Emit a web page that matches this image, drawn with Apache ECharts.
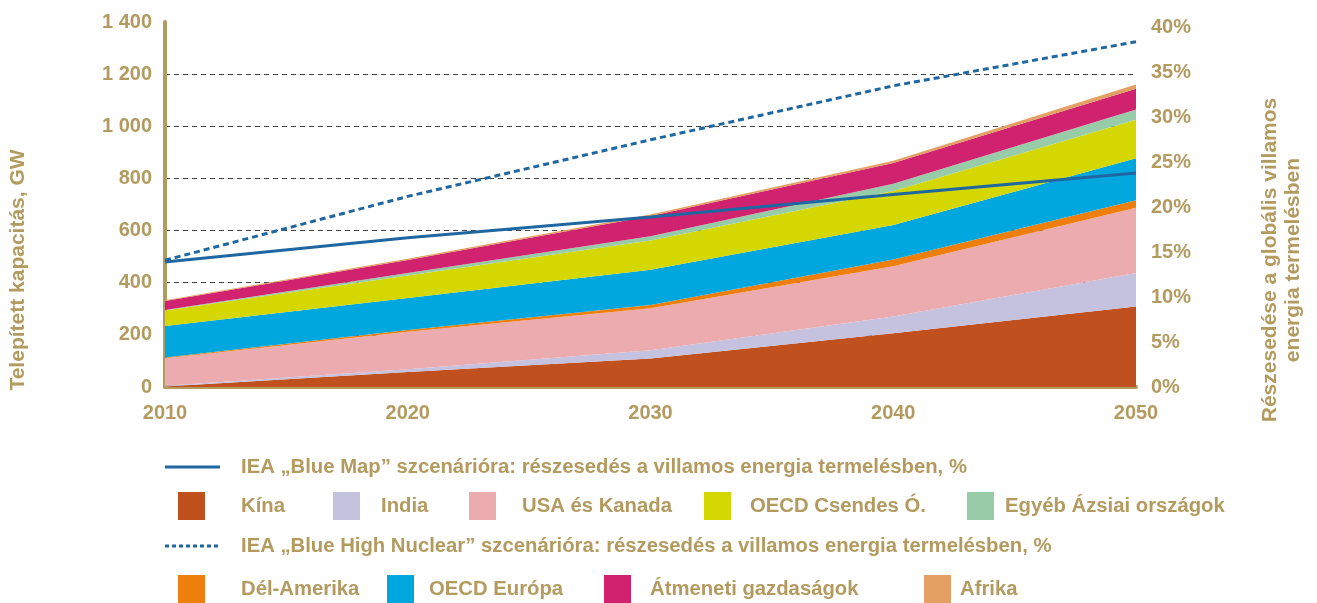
<!DOCTYPE html>
<html>
<head>
<meta charset="utf-8">
<script src="https://cdn.jsdelivr.net/npm/echarts@6/dist/echarts.min.js"></script>
<style>
  html, body { margin: 0; padding: 0; background: #fff; }
  #main { width: 1317px; height: 603px; }
</style>
</head>
<body>
<div id="main"></div>
<script>
// evek
var years = ['2010', '2020', '2030', '2040', '2050'];

// telepitett kapacitas regionkent, GW (egymasra rakva)
var kina     = [2, 58, 109, 206, 309];
var india    = [3, 10, 32, 64, 128];
var usa      = [105, 144, 161, 193, 251];
var delAm    = [3, 7, 13, 26, 28];
var europa   = [121, 122, 135, 132, 161];
var csendes  = [59, 87, 112, 131, 148];
var egyeb    = [2, 9, 16, 28, 39];
var atmeneti = [35, 50, 78, 79, 80];
var afrika   = [3, 5, 6, 9, 16];

// reszesedes a villamos energia termelesben, %
var blueMap  = [13.9, 16.6, 18.9, 21.4, 23.8];
var blueHigh = [14.1, 21.2, 27.5, 33.5, 38.4];

var tan = '#b39a5f';
var font = 'Liberation Sans, Arial, sans-serif';

var areas = [
    {name: 'Kína', data: kina, color: '#c1501f'},
    {name: 'India', data: india, color: '#c5c2e0'},
    {name: 'USA és Kanada', data: usa, color: '#ebabaf'},
    {name: 'Dél-Amerika', data: delAm, color: '#ef7f0c'},
    {name: 'OECD Európa', data: europa, color: '#00a7de'},
    {name: 'OECD Csendes Ó.', data: csendes, color: '#d4d800'},
    {name: 'Egyéb Ázsiai országok', data: egyeb, color: '#98cca8'},
    {name: 'Átmeneti gazdaságok', data: atmeneti, color: '#d12270'},
    {name: 'Afrika', data: afrika, color: '#e3a062'}
];
var lineNames = ['IEA „Blue Map” szcenárióra: részesedés a villamos energia termelésben, %',
                 'IEA „Blue High Nuclear” szcenárióra: részesedés a villamos energia termelésben, %'];
var lineColor = '#1f67a1';

var series = areas.map(function (a) {
    return {
        name: a.name,
        type: 'line',
        stack: 'gw',
        symbol: 'none',
        lineStyle: {width: 0},
        areaStyle: {color: a.color, opacity: 1},
        itemStyle: {color: a.color},
        data: a.data
    };
});
series.push({
    name: lineNames[0], type: 'line', yAxisIndex: 1, symbol: 'none', z: 5,
    lineStyle: {color: lineColor, width: 3}, itemStyle: {color: lineColor},
    data: blueMap
});
series.push({
    name: lineNames[1], type: 'line', yAxisIndex: 1, symbol: 'none', z: 5,
    lineStyle: {color: lineColor, width: 3, type: [6, 4]}, itemStyle: {color: lineColor},
    data: blueHigh
});

// jelmagyarazat kezzel elhelyezve
var legendFont = 'bold 20.3px ' + font;
var graphic = [];
function legendRect(x, y, color, label, tx) {
    graphic.push({type: 'rect', shape: {x: x, y: y, width: 27, height: 28}, style: {fill: color}});
    graphic.push({type: 'text', x: tx, y: y + 14, style: {text: label, font: legendFont, fill: tan, verticalAlign: 'middle'}});
}
function legendLine(y, dashed, label) {
    graphic.push({type: 'line', shape: {x1: 165, y1: y, x2: 220, y2: y},
        style: {stroke: lineColor, lineWidth: 3, lineDash: dashed ? [4, 3] : null}});
    graphic.push({type: 'text', x: 241, y: y, style: {text: label, font: legendFont, fill: tan, verticalAlign: 'middle'}});
}
legendLine(467, false, lineNames[0]);
legendRect(178, 492, areas[0].color, areas[0].name, 241);
legendRect(333, 492, areas[1].color, areas[1].name, 381);
legendRect(469, 492, areas[2].color, areas[2].name, 522);
legendRect(704, 492, areas[5].color, areas[5].name, 750);
legendRect(967, 492, areas[6].color, areas[6].name, 1005);
legendLine(546, true, lineNames[1]);
legendRect(178, 575, areas[3].color, areas[3].name, 241);
legendRect(387, 575, areas[4].color, areas[4].name, 429);
legendRect(604, 575, areas[7].color, areas[7].name, 650);
legendRect(924, 575, areas[8].color, areas[8].name, 960);

// tengelycimek
graphic.push({type: 'text', x: 18, y: 270, rotation: Math.PI / 2,
    style: {text: 'Telepített kapacitás, GW', font: 'bold 21px ' + font, fill: tan, align: 'center', verticalAlign: 'middle'}});
graphic.push({type: 'text', x: 1282, y: 260, rotation: Math.PI / 2,
    style: {text: 'Részesedése a globális villamos\nenergia termelésben', font: 'bold 21px ' + font, fill: tan,
        align: 'center', verticalAlign: 'middle', lineHeight: 23}});

var dom = document.getElementById('main');
var myChart = echarts.init(dom);
var option = {
    animation: false,
    textStyle: {fontFamily: font},
    grid: {left: 165, right: 181, top: 22, bottom: 216},
    xAxis: {
        type: 'category', data: years, boundaryGap: false,
        axisLine: {lineStyle: {color: tan, width: 4}},
        axisTick: {show: false},
        splitLine: {show: false},
        axisLabel: {color: tan, fontWeight: 'bold', fontSize: 20, margin: 16}
    },
    yAxis: [{
        type: 'value', min: 0, max: 1400, interval: 200,
        axisLine: {show: true, lineStyle: {color: tan, width: 4}},
        axisTick: {show: false},
        splitLine: {show: true, showMaxLine: false, showMinLine: false,
            lineStyle: {color: '#444', width: 1, type: [5, 4]}},
        axisLabel: {color: tan, fontWeight: 'bold', fontSize: 20, margin: 13,
            formatter: function (v) {
                if (v >= 1000) {
                    var r = v % 1000;
                    return Math.floor(v / 1000) + ' ' + ('00' + r).slice(-3);
                }
                return String(v);
            }}
    }, {
        // a jobb oldali skala kicsit eltolva, mint az eredetin
        type: 'value', min: 0, max: 40.6, interval: 5,
        axisLine: {show: false},
        axisTick: {show: false},
        splitLine: {show: false},
        axisLabel: {color: tan, fontWeight: 'bold', fontSize: 20, margin: 15,
            formatter: function (v) { return v % 5 === 0 ? v + '%' : ''; }}
    }],
    graphic: graphic,
    series: series
};
myChart.setOption(option);
</script>
</body>
</html>
